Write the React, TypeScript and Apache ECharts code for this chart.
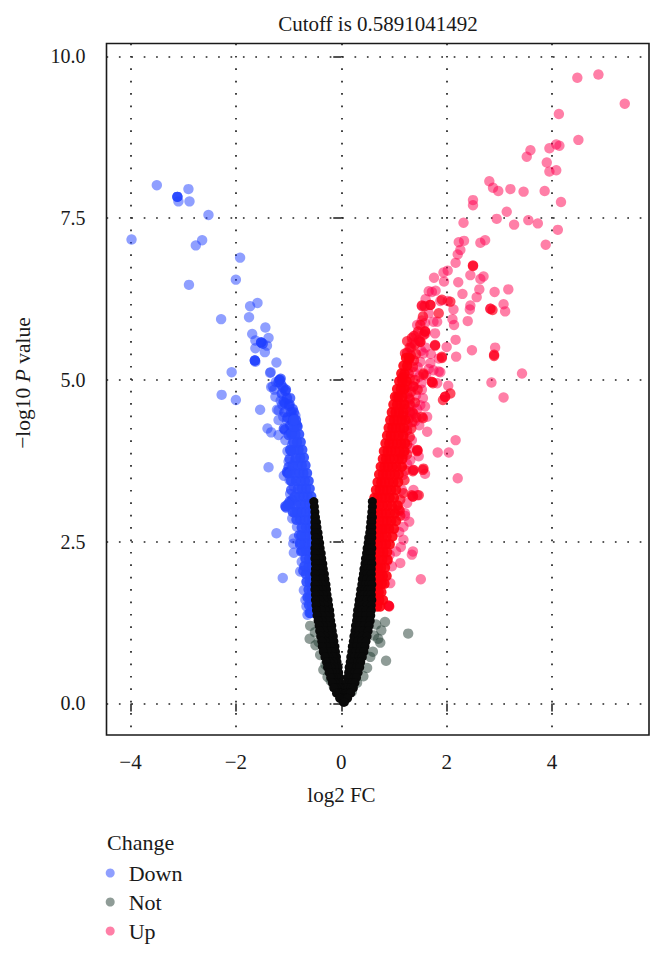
import React, { useEffect, useRef } from "react";
import * as echarts from "echarts";

const titleText = "Cutoff is 0.5891041492";
const xTicks = [-4, -2, 0, 2, 4];
const yTicks = [0, 2.5, 5, 7.5, 10];
const legendNames = ["Down", "Not", "Up"];

const downSparse: number[][] = [
  [-3.5, 8.01], [-3.09, 7.76], [-2.9, 7.95], [-2.88, 7.76], [-2.52, 7.55], [-3.98, 7.17],
  [-2.64, 7.16], [-2.76, 7.08], [-1.92, 6.89], [-2.0, 6.55], [-2.89, 6.47], [-1.59, 6.19], [-1.73, 6.14], [-1.75, 5.97],
  [-2.28, 5.94], [-1.44, 5.81], [-1.69, 5.71], [-1.38, 5.65], [-1.63, 5.61], [-1.41, 5.53], [-1.63, 5.49], [-1.45, 5.43],
  [-1.23, 5.27], [-1.63, 5.28], [-2.08, 5.12], [-1.34, 5.12], [-1.35, 5.11], [-1.24, 4.97], [-1.33, 4.89], [-2.27, 4.77], [-2.0, 4.69],
  [-1.3, 4.9], [-1.25, 4.74], [-1.54, 4.54], [-1.19, 4.53], [-0.87, 4.45], [-1.19, 4.38], [-1.03, 4.38], [-1.4, 4.25], [-1.33, 4.19],
  [-1.19, 4.15], [-1.06, 4.07], [-0.93, 4.0], [-1.38, 3.65], [-1.0, 3.74], [-0.87, 3.76], [-1.09, 3.52], [-0.9, 3.35], [-0.97, 3.24],
  [-0.93, 2.86], [-0.84, 2.73], [-1.23, 2.63], [-0.9, 2.55], [-0.91, 2.47], [-0.9, 2.33], [-0.75, 2.19], [-0.78, 2.04],
  [-1.11, 1.94], [-0.71, 1.75], [-0.64, 1.37], [-0.68, 1.6], [-0.66, 1.5],
  [-1.22, 4.54], [-1.12, 4.62], [-1.27, 4.85], [-1.15, 4.68], [-1.1, 4.43], [-1.02, 3.9], [-0.98, 3.45], [-0.97, 3.6],
];

const downMid: number[][] = [
  [-3.11, 7.83], [-3.11, 7.83], [-1.52, 5.58], [-1.52, 5.58], [-1.49, 5.56], [-1.64, 5.3], [-1.64, 5.3],
  [-1.17, 5.0], [-1.17, 5.0], [-1.15, 5.02], [-1.19, 4.97], [-1.06, 4.83], [-1.05, 4.85], [-1.09, 4.66], [-1.07, 4.64],
  [-0.98, 4.62], [-0.99, 4.6], [-1.13, 4.79], [-0.84, 4.3], [-0.86, 4.32], [-1.09, 4.25], [-1.07, 4.23],
  [-0.93, 4.17], [-0.95, 4.19], [-1.03, 3.58], [-1.02, 3.56], [-1.06, 3.05], [-1.05, 3.03], [-0.91, 4.42], [-0.95, 4.5], [-0.92, 4.55],
  [-0.95, 3.9], [-0.98, 3.78], [-1.0, 3.65], [-0.95, 3.3], [-0.93, 3.15], [-0.98, 3.12], [-1.0, 4.15], [-0.97, 4.3], [-1.02, 4.42],
  [-1.08, 4.5], [-0.93, 4.35], [-0.9, 4.5], [-0.97, 4.72], [-1.03, 4.72], [-1.1, 4.88], [-1.14, 4.93], [-0.88, 2.95], [-0.8, 2.6],
  [-0.78, 2.45], [-0.76, 2.35], [-0.72, 2.05],
];

const downDenseRows: [number, number[]][] = [
  [1.4, [-0.58, -0.6]], [1.52, [-0.56, -0.61]], [1.64, [-0.55, -0.6, -0.64]], [1.76, [-0.56, -0.62]],
  [1.88, [-0.55, -0.6, -0.66]], [2.0, [-0.54, -0.6, -0.67]], [2.12, [-0.56, -0.62, -0.7]], [2.24, [-0.55, -0.61, -0.68]],
  [2.36, [-0.54, -0.6, -0.67, -0.74]], [2.48, [-0.56, -0.63, -0.7, -0.78]], [2.6, [-0.55, -0.61, -0.69, -0.76]],
  [2.72, [-0.54, -0.6, -0.67, -0.75]], [2.84, [-0.55, -0.62, -0.7, -0.78, -0.85]],
  [2.96, [-0.54, -0.6, -0.68, -0.76, -0.84, -0.92]], [3.08, [-0.54, -0.61, -0.69, -0.77, -0.86, -0.96, -1.01]],
  [3.2, [-0.57, -0.64, -0.72, -0.8, -0.88]], [3.32, [-0.6, -0.67, -0.75, -0.82]],
  [3.44, [-0.62, -0.69, -0.77, -0.86, -0.95]], [3.56, [-0.65, -0.72, -0.8, -0.88, -0.97]],
  [3.68, [-0.68, -0.75, -0.83, -0.92]], [3.8, [-0.71, -0.78, -0.86]], [3.92, [-0.74, -0.81, -0.89, -0.97]],
  [4.04, [-0.77, -0.84, -0.91]], [4.16, [-0.8, -0.87, -0.95]], [4.28, [-0.83, -0.9]], [4.38, [-0.86, -0.9]],
];

const upSparse: number[][] = [
  [4.48, 9.67], [4.88, 9.72], [5.38, 9.27], [4.13, 9.11], [4.5, 8.71], [4.08, 8.64], [4.14, 8.62], [3.95, 8.58], [3.59, 8.55],
  [3.52, 8.45], [3.9, 8.36], [4.08, 8.24], [3.95, 8.22], [2.81, 8.07], [2.88, 7.97], [2.98, 7.92], [3.21, 7.95], [3.46, 7.91],
  [3.86, 7.92], [4.17, 7.75], [2.5, 7.78], [2.5, 7.7], [3.14, 7.6], [2.95, 7.49], [3.55, 7.47], [3.28, 7.4], [3.73, 7.42],
  [2.32, 7.43], [4.11, 7.32], [3.88, 7.09], [2.73, 7.16], [2.64, 7.12], [2.33, 7.15], [2.23, 7.13], [2.26, 7.01], [2.21, 6.94],
  [2.17, 6.81], [2.02, 6.69], [1.94, 6.66], [2.45, 6.62], [2.7, 6.6], [2.64, 6.56], [1.76, 6.58],
  [1.95, 6.52], [2.22, 6.51], [3.17, 6.4], [2.91, 6.36], [2.62, 6.4], [2.3, 6.33], [2.57, 6.28], [1.66, 6.37], [1.79, 6.38],
  [1.72, 6.36], [3.08, 6.17], [3.11, 6.06], [2.83, 6.1], [2.45, 6.15], [2.44, 6.09], [2.4, 5.91], [2.13, 6.09],
  [2.11, 5.94], [2.14, 5.85], [1.78, 5.72], [2.17, 5.62], [2.0, 5.51], [2.48, 5.46], [2.92, 5.5],
  [2.18, 5.36], [3.43, 5.1], [2.85, 4.96], [2.03, 4.91], [3.08, 4.73], [1.88, 5.12],
  [2.17, 4.07], [1.83, 3.88], [2.04, 3.88], [2.21, 3.48],
  [1.51, 1.92], [0.93, 1.86], [1.12, 2.17], [0.96, 2.12], [0.87, 2.2], [1.34, 2.3], [1.36, 2.35],
  [1.18, 2.53], [1.13, 2.42], [1.29, 2.81], [1.21, 2.94], [1.18, 2.73], [1.44, 3.22],
  [1.37, 3.3], [1.17, 3.53], [1.37, 3.61], [1.59, 3.55], [1.47, 3.82], [1.34, 4.07],
  [1.63, 4.2], [1.63, 4.43], [1.4, 4.36], [1.59, 4.59], [1.5, 4.61], [1.53, 4.85], [1.82, 4.95],
  [1.53, 6.14], [1.88, 6.22], [2.02, 6.22], [1.6, 6.25], [1.66, 6.03], [1.82, 5.9], [1.75, 5.9], [1.53, 5.92], [1.44, 5.85],
  [1.59, 5.88], [1.6, 5.72], [1.56, 5.41], [1.69, 5.26], [1.85, 5.13], [1.75, 5.15], [1.85, 5.33], [1.7, 5.4], [1.66, 5.17],
  [1.42, 5.7], [1.34, 5.57], [1.5, 5.28], [1.61, 5.07], [1.48, 5.05], [1.31, 3.76], [1.18, 4.17], [1.21, 2.9],
  [1.26, 4.3], [1.32, 4.6], [1.44, 4.55], [1.3, 3.95], [1.25, 3.7], [1.15, 3.3], [1.25, 3.1], [1.1, 2.65], [1.04, 2.35], [0.92, 2.3],
  [1.45, 5.2], [1.38, 5.12], [1.27, 5.18], [1.52, 4.95], [1.42, 4.76], [1.52, 5.45], [1.6, 5.5], [1.48, 4.3], [1.55, 4.72],
];

const upMid: number[][] = [
  [2.5, 6.77], [2.5, 6.76], [2.87, 6.08], [2.83, 6.1], [2.9, 5.39], [2.9, 5.37], [1.97, 4.74], [1.97, 4.74], [1.93, 4.69], [2.07, 4.79],
  [1.69, 6.16], [1.69, 6.16], [1.53, 6.15], [1.58, 6.14], [1.91, 6.24], [2.07, 6.21], [1.85, 6.03],
  [1.59, 5.75], [1.59, 5.75], [1.57, 5.7], [1.5, 5.59], [1.5, 5.59], [1.47, 5.61], [1.34, 5.65], [1.28, 5.31], [1.3, 5.33],
  [1.21, 5.41], [1.15, 5.03], [1.18, 5.05], [1.37, 4.9], [1.37, 4.9], [1.28, 4.72], [1.3, 4.7], [1.06, 4.74],
  [1.72, 4.97], [1.72, 4.97], [1.74, 4.95], [1.78, 5.54], [1.78, 5.53], [1.91, 5.36], [1.91, 5.34], [1.56, 5.1], [1.56, 5.08],
  [1.37, 4.48], [1.35, 4.5], [1.53, 4.43], [1.55, 4.41], [1.44, 3.92], [1.44, 3.9], [1.45, 3.91], [1.37, 3.61], [1.36, 3.59],
  [1.56, 3.63], [1.55, 3.61], [1.36, 3.2], [1.36, 3.2], [1.34, 3.22], [1.18, 3.25], [1.47, 3.22], [1.09, 3.0], [1.11, 2.98],
  [0.9, 1.51], [0.9, 1.51], [0.91, 1.5], [1.18, 4.45], [1.3, 5.5], [1.42, 5.4], [1.25, 5.6], [1.18, 4.85],
  [1.25, 4.0], [1.3, 4.12], [1.25, 4.22], [1.33, 4.25], [1.28, 4.4], [1.35, 4.35], [1.3, 4.5], [1.43, 4.42], [1.22, 4.55], [1.3, 4.62],
  [1.4, 4.65], [1.25, 4.78], [1.33, 4.82], [1.45, 4.85], [1.25, 4.92], [1.3, 5.02], [1.4, 5.0], [1.28, 5.1], [1.36, 5.2], [1.32, 5.38],
  [1.38, 5.3], [1.25, 5.42], [1.33, 5.5], [1.4, 5.55], [1.38, 5.68], [1.46, 5.75], [1.5, 5.85], [1.55, 5.98], [1.12, 2.9], [1.12, 3.15],
  [1.2, 3.45], [1.22, 3.6], [1.25, 3.85], [1.18, 3.85],
];

const upDenseRows: [number, number[]][] = [
  [1.5, [0.68, 0.74]], [1.6, [0.66, 0.72, 0.79]], [1.72, [0.65, 0.71, 0.76]], [1.85, [0.64, 0.7, 0.77, 0.82]],
  [1.97, [0.66, 0.73, 0.79, 0.86]], [2.1, [0.65, 0.7, 0.76, 0.83]], [2.22, [0.64, 0.71, 0.78, 0.88]],
  [2.34, [0.65, 0.73, 0.8, 0.87]], [2.46, [0.64, 0.7, 0.77, 0.85, 0.92]], [2.58, [0.66, 0.72, 0.79, 0.86, 0.97]],
  [2.7, [0.64, 0.71, 0.78, 0.84, 0.91, 1.0]], [2.82, [0.65, 0.72, 0.8, 0.87, 0.95, 1.04]],
  [2.94, [0.64, 0.7, 0.77, 0.85, 0.93, 1.02]], [3.06, [0.65, 0.72, 0.79, 0.88, 0.96, 1.07]],
  [3.18, [0.63, 0.69, 0.77, 0.84, 0.92, 1.0]], [3.3, [0.66, 0.73, 0.8, 0.87, 0.95, 1.04]],
  [3.42, [0.69, 0.76, 0.83, 0.91, 0.99, 1.08]], [3.54, [0.72, 0.79, 0.86, 0.93, 1.02, 1.09]],
  [3.66, [0.75, 0.82, 0.89, 0.97, 1.05, 1.15]], [3.78, [0.79, 0.85, 0.92, 1.0, 1.09, 1.16]],
  [3.9, [0.81, 0.88, 0.95, 1.03, 1.11, 1.2]], [4.02, [0.84, 0.91, 0.98, 1.06, 1.14, 1.21]],
  [4.14, [0.87, 0.94, 1.01, 1.09, 1.18]], [4.26, [0.9, 0.97, 1.04, 1.12, 1.19]],
  [4.38, [0.93, 1.0, 1.07, 1.15, 1.22]], [4.5, [0.96, 1.03, 1.1, 1.18]],
  [4.62, [0.99, 1.06, 1.13, 1.2]], [4.74, [1.02, 1.09, 1.16]],
  [4.86, [1.06, 1.13, 1.2]], [4.98, [1.1, 1.16, 1.24]], [5.1, [1.14, 1.2]],
  [5.22, [1.18, 1.25]], [5.34, [1.23, 1.29]],
];

const notSparse: number[][] = [
  [0.83, 1.26], [1.27, 1.08], [0.85, 0.66], [0.76, 1.13], [0.6, 0.8], [0.74, 0.94], [0.49, 0.55], [-0.59, 1.2], [-0.6, 1.0],
  [-0.49, 0.9], [-0.4, 0.75], [-0.34, 0.52], [-0.26, 0.41], [0.66, 1.22], [0.7, 1.0], [0.3, 0.32], [0.2, 0.18], [-0.14, 0.26],
  [-0.5, 1.1], [-0.43, 0.95], [0.62, 1.05], [0.55, 0.72], [0.42, 0.42], [-0.3, 0.6], [-0.2, 0.35],
];

const notDenseRows: [number, number[]][] = [
  [3.12, [-0.52, 0.59]], [3.04, [-0.51, 0.59]], [2.96, [-0.5, 0.58]], [2.88, [-0.49, -0.5, 0.57, 0.59]],
  [2.8, [-0.47, -0.5, 0.56, 0.58]], [2.72, [-0.46, -0.5, 0.55, 0.58]], [2.64, [-0.44, -0.5, 0.54, 0.58]],
  [2.56, [-0.43, -0.49, 0.52, 0.58]], [2.48, [-0.41, -0.49, 0.51, 0.57]], [2.4, [-0.4, -0.45, -0.5, 0.49, 0.54, 0.58]],
  [2.32, [-0.38, -0.44, -0.5, 0.48, 0.53, 0.57]], [2.24, [-0.37, -0.43, -0.5, 0.46, 0.52, 0.57]],
  [2.16, [-0.35, -0.42, -0.49, 0.45, 0.51, 0.58]], [2.08, [-0.34, -0.41, -0.49, 0.43, 0.5, 0.57]],
  [2.0, [-0.32, -0.4, -0.5, 0.42, 0.49, 0.57]], [1.92, [-0.31, -0.39, -0.49, 0.4, 0.48, 0.57]],
  [1.84, [-0.29, -0.37, -0.44, -0.5, 0.39, 0.46, 0.52, 0.58]], [1.76, [-0.28, -0.36, -0.43, -0.5, 0.37, 0.45, 0.51, 0.57]],
  [1.68, [-0.27, -0.35, -0.42, -0.49, 0.36, 0.43, 0.5, 0.57]], [1.6, [-0.25, -0.33, -0.41, -0.49, 0.34, 0.42, 0.49, 0.58]],
  [1.52, [-0.24, -0.32, -0.4, -0.48, 0.33, 0.41, 0.49, 0.57]], [1.44, [-0.22, -0.3, -0.38, -0.47, 0.31, 0.39, 0.47, 0.57]],
  [1.36, [-0.21, -0.29, -0.37, -0.46, 0.3, 0.38, 0.46, 0.56]], [1.28, [-0.2, -0.28, -0.36, -0.44, 0.29, 0.37, 0.45, 0.55]],
  [1.2, [-0.18, -0.26, -0.34, -0.42, 0.27, 0.35, 0.43, 0.53]], [1.12, [-0.17, -0.25, -0.33, -0.41, 0.26, 0.34, 0.42, 0.51]],
  [1.04, [-0.15, -0.23, -0.31, -0.39, 0.24, 0.32, 0.4, 0.49]], [0.96, [-0.14, -0.22, -0.3, -0.37, 0.23, 0.31, 0.39, 0.47]],
  [0.88, [-0.12, -0.2, -0.28, -0.36, 0.21, 0.29, 0.37, 0.45]], [0.8, [-0.11, -0.18, -0.26, -0.34, 0.2, 0.27, 0.35, 0.43]],
  [0.72, [-0.09, -0.16, -0.24, -0.31, 0.18, 0.25, 0.33, 0.4]], [0.64, [-0.08, -0.15, -0.22, -0.28, 0.17, 0.24, 0.31, 0.37]],
  [0.56, [-0.06, -0.13, -0.2, -0.26, 0.15, 0.22, 0.29, 0.35]], [0.48, [-0.05, -0.11, -0.17, -0.23, 0.14, 0.2, 0.26, 0.32]],
  [0.4, [-0.03, -0.09, -0.15, -0.2, 0.12, 0.18, 0.24, 0.29]], [0.32, [-0.02, -0.07, -0.12, -0.17, 0.11, 0.16, 0.21, 0.26]],
  [0.24, [0.0, -0.04, -0.09, -0.14, 0.09, 0.13, 0.18, 0.23]], [0.16, [0.01, -0.02, -0.06, -0.09, 0.08, 0.11, 0.15, 0.18]],
  [0.08, [0.03, 0.0, -0.03, 0.06, 0.09, 0.12]], [0.02, [0.04, 0.06]],
];

const rowsToPoints = (rows: [number, number[]][]) => rows.flatMap(([y, xs]) => xs.map((x) => [x, y]));
const serif = "'Liberation Serif', serif";
const ink = "#1a1a1a";

export default function App() {
  const ref = useRef<HTMLDivElement>(null);
  useEffect(() => {
    const chart = echarts.init(ref.current!, undefined, { renderer: "svg" });
    const axisCommon = {
      type: "value" as const,
      axisLine: { show: false },
      axisTick: { show: true, length: 8, lineStyle: { color: ink, width: 1.5 } },
      splitLine: { show: true, lineStyle: { color: "#222", width: 1.7, type: [1.7, 10.7] as any } },
    };
    const scatter = (name: string, data: number[][], color: string, opacity: number, size = 10.4) => ({
      type: "scatter" as const,
      name,
      data,
      symbol: "circle",
      symbolSize: size,
      itemStyle: { color, opacity },
      silent: true,
    });
    chart.setOption({
      animation: false,
      backgroundColor: "#fff",
      title: {
        text: titleText,
        left: 373,
        top: 8,
        textAlign: "center",
        textStyle: { fontFamily: serif, fontSize: 21, fontWeight: "normal", color: ink },
      },
      grid: {
        show: true,
        left: 106.5,
        right: 15,
        top: 43.5,
        height: 691.5,
        borderColor: ink,
        borderWidth: 1.6,
        backgroundColor: "transparent",
      },
      xAxis: {
        ...axisCommon,
        min: -4.455,
        max: 5.84,
        axisTick: { ...axisCommon.axisTick, customValues: xTicks },
        axisLabel: {
          customValues: xTicks,
          margin: 16,
          fontFamily: serif,
          fontSize: 21,
          color: ink,
          formatter: (v: number) => String(v).replace("-", "\u2212"),
        },
      },
      yAxis: {
        ...axisCommon,
        min: -0.487,
        max: 10.2,
        axisTick: { ...axisCommon.axisTick, customValues: yTicks },
        axisLabel: {
          customValues: yTicks,
          margin: 21,
          fontFamily: serif,
          fontSize: 20,
          color: ink,
          formatter: (v: number) => v.toFixed(1),
        },
      },
      legend: {
        data: legendNames,
        orient: "vertical",
        left: 100.7,
        top: 854,
        itemWidth: 9,
        itemHeight: 9,
        itemGap: 1,
        icon: "circle",
        selectedMode: false,
        textStyle: { fontFamily: serif, fontSize: 22, color: ink, padding: [8, 0, 0, 9], height: 20, lineHeight: 20 },
      },
      graphic: [
        {
          type: "text",
          x: 341.5,
          y: 795,
          style: { text: "log2 FC", fill: ink, font: `21px ${serif}`, textAlign: "center", textVerticalAlign: "middle" },
        },
        {
          type: "text",
          x: 23,
          y: 383,
          rotation: Math.PI / 2,
          style: {
            rich: { a: { fontFamily: serif, fontSize: 21.5, fill: ink }, i: { fontFamily: serif, fontSize: 21.5, fontStyle: "italic", fill: ink } },
            text: "{a|\u2212log10 }{i|P}{a| value}",
            textAlign: "center",
            textVerticalAlign: "middle",
          },
        },
        {
          type: "text",
          x: 107,
          y: 842,
          style: { text: "Change", fill: ink, font: `22px ${serif}`, textAlign: "left", textVerticalAlign: "middle" },
        },
      ],
      series: [
        scatter("Down", downSparse, "#2040ff", 0.5),
        scatter("Down", downMid, "#2040ff", 0.75),
        scatter("Down", rowsToPoints(downDenseRows), "#2a4bff", 0.9),
        scatter("Up", upSparse, "#ff0050", 0.5),
        scatter("Up", upMid, "#ff0020", 0.7),
        scatter("Up", rowsToPoints(upDenseRows), "#ff0010", 0.9),
        scatter("Not", notSparse, "#1f3a30", 0.5),
        scatter("Not", rowsToPoints(notDenseRows), "#0a0a0a", 1, 9),
      ],
    });
    return () => chart.dispose();
  }, []);
  return <div ref={ref} style={{ position: "fixed", left: 0, top: 0, width: 664, height: 959 }} />;
}
